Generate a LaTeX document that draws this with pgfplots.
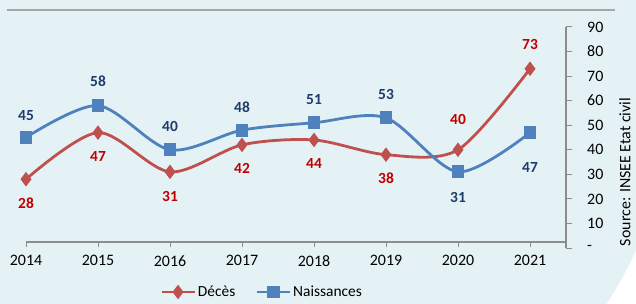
\documentclass[border=0pt]{standalone}
\usepackage{pgfplots}
\pgfplotsset{compat=1.18}
\usepackage{pgfplotstable}
\usepackage{fontspec}
\setmainfont{Carlito}
\definecolor{bg}{HTML}{E4F2F6}
\definecolor{redline}{HTML}{C0504D}
\definecolor{blueline}{HTML}{4F81BD}
\definecolor{redlab}{HTML}{C00000}
\definecolor{bluelab}{HTML}{1F3D6B}
\definecolor{axgray}{HTML}{8C8C8C}
\definecolor{topgray}{HTML}{A6A6A6}

\pgfplotstableread{
x y dy
0 28 -24
1 47 -24
2 31 -25
3 42 -24
4 44 -24
5 38 -24
6 40 30
7 73 24
}\deces
\pgfplotstableread{
x y dy
0 45 22
1 58 24
2 40 23
3 48 23
4 51 23
5 53 23
6 31 -26
7 47 -35
}\naiss

\begin{document}
\begin{tikzpicture}[x=1bp,y=1bp]
\path[use as bounding box] (0,0) rectangle (636,303);
\begin{scope}
\clip (0,0) rectangle (636,303);
\fill[white] (0,0) rectangle (636,303);
\fill[bg] (300,203) circle (368);
\end{scope}
\draw[topgray, line width=2bp] (7,292.5) -- (615,292.5);

% x axis only
\begin{axis}[
  at={(26bp,61bp)}, anchor=south west,
  scale only axis, width=540bp, height=215bp,
  xmin=0, xmax=7.5, ymin=0, ymax=10,
  axis x line=bottom, axis y line=none,
  axis line style={axgray, line width=1.3bp, -},
  xtick={0,...,7},
  xticklabels={2014,2015,2016,2017,2018,2019,2020,2021},
  tick align=outside, major tick length=5bp,
  tick style={axgray, line width=1bp},
  /pgf/number format/assume math mode=true,
  xticklabel style={font=\fontsize{16}{18}\selectfont, yshift=-5bp},
]
\end{axis}

\begin{axis}[
  at={(26bp,55bp)}, anchor=south west,
  scale only axis, width=540bp, height=221bp,
  xmin=0, xmax=7.5, ymin=0, ymax=90,
  axis y line=right, axis x line=none,
  axis line style={axgray, line width=1.3bp, -},
  ytick={0,10,...,90},
  yticklabels={-,10,20,30,40,50,60,70,80,90},
  tick align=outside, major tick length=6bp,
  tick style={axgray, line width=1bp},
  /pgf/number format/assume math mode=true,
  yticklabel style={font=\fontsize{16}{18}\selectfont, anchor=west, inner sep=0pt, xshift=15bp},
  clip=false,
  legend style={at={(0.248,-0.199)}, anchor=west, draw=none, fill=none,
    inner sep=0pt, font=\fontsize{15.5}{18}\selectfont, legend columns=2,
    /tikz/every even column/.append style={column sep=18bp},
    legend cell align=left},
  legend image code/.code={\draw[mark repeat=2,mark phase=2] plot coordinates {(0bp,0bp)(16.5bp,0bp)(33bp,0bp)};},
]
\addplot[redline, line width=2.8bp, smooth, tension=0.5, mark=diamond*, mark size=5bp, mark options={solid, fill=redline}] table[x=x,y=y] {\deces};
\addlegendentry{Décès}
\addplot[blueline, line width=2.8bp, smooth, tension=0.5, mark=square*, mark size=5bp, mark options={solid, fill=blueline}] table[x=x,y=y] {\naiss};
\addlegendentry{Naissances}

\addplot[only marks, mark=none, draw=none, forget plot,
  visualization depends on={\thisrow{dy} \as \dy},
  nodes near coords, point meta=explicit,
  nodes near coords style={anchor=center, yshift=\dy bp, text=redlab, font=\fontsize{15.5}{18}\selectfont\bfseries}]
  table[x=x,y=y,meta=y] {\deces};
\addplot[only marks, mark=none, draw=none, forget plot,
  visualization depends on={\thisrow{dy} \as \dy},
  nodes near coords, point meta=explicit,
  nodes near coords style={anchor=center, yshift=\dy bp, text=bluelab, font=\fontsize{15.5}{18}\selectfont\bfseries}]
  table[x=x,y=y,meta=y] {\naiss};
\end{axis}

\node[rotate=90, font=\fontsize{16}{18}\selectfont, inner sep=0pt] at (625,131) {Source: INSEE Etat civil};
\end{tikzpicture}
\end{document}
